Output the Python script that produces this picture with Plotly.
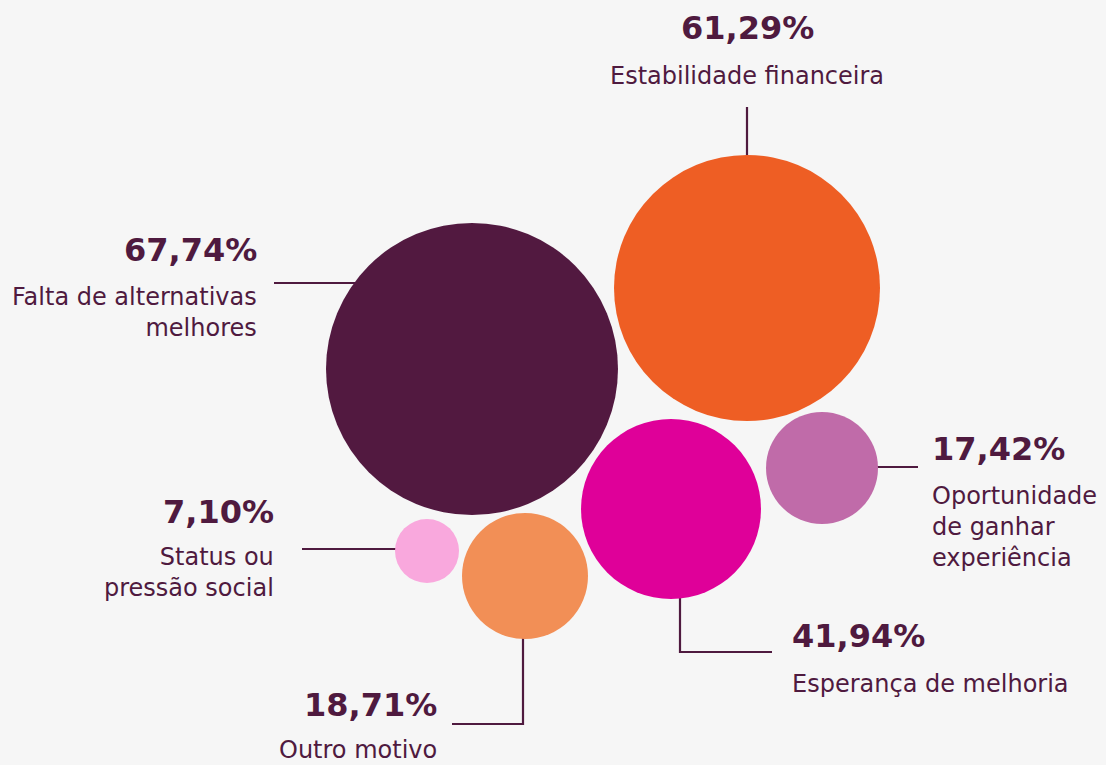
import plotly.graph_objects as go

# ---- data ----
categories = [
    "Falta de alternativas<br>melhores",
    "Estabilidade financeira",
    "Oportunidade<br>de ganhar<br>experiência",
    "Esperança de melhoria",
    "Outro motivo",
    "Status ou<br>pressão social",
]
values = [67.74, 61.29, 17.42, 41.94, 18.71, 7.10]
value_labels = ["67,74%", "61,29%", "17,42%", "41,94%", "18,71%", "7,10%"]

# ---- layout (pixel coordinates of the packed bubbles) ----
cx = [472, 747, 822, 671, 525, 427]
cy = [369, 288, 468, 509, 576, 551]
radius = [146, 133, 56, 90, 63, 32]
colors = ["#521940", "#ee5e24", "#c06ba9", "#df0099", "#f28f56", "#f9a8dd"]

TEXT = "#4f1a3f"
BG = "#f6f6f6"
W, H = 1106, 765

fig = go.Figure()

# leader lines (pixel paths)
leaders = [
    ([274, 356], [283, 283]),
    ([747, 747], [107, 156]),
    ([877, 918], [467, 467]),
    ([680, 680, 772], [597, 652, 652]),
    ([523, 523, 452], [638, 724, 724]),
    ([302, 396], [549, 549]),
]
for xs, ys in leaders:
    fig.add_trace(go.Scatter(x=xs, y=ys, mode="lines",
                             line=dict(color=TEXT, width=2.2),
                             hoverinfo="skip", showlegend=False))

fig.add_trace(go.Scatter(
    x=cx, y=cy, mode="markers",
    marker=dict(size=[2 * r for r in radius], sizemode="diameter",
                color=colors, opacity=1, line=dict(width=0)),
    customdata=values,
    text=[c.replace("<br>", " ") for c in categories],
    hovertemplate="%{text}: %{customdata:.2f}%<extra></extra>",
    showlegend=False,
))

# text positions: (x, y_pct_center, y_label_first_line_center, anchor)
text_pos = [
    (259, 250, 298, "right"),
    (747, 28, 77, "center"),
    (930, 449, 497, "left"),
    (790, 636, 685, "left"),
    (439, 705, 751, "right"),
    (276, 512, 558, "right"),
]
PCT_FONT = "DejaVu Sans"
LAB_FONT = "DejaVu Sans"
for (x, yp, yl, anc), lab, val in zip(text_pos, categories, value_labels):
    fig.add_annotation(x=x, y=yp, text=val, showarrow=False,
                       xanchor=anc, yanchor="middle",
                       font=dict(family=PCT_FONT, size=32, color=TEXT, weight="bold"))
    fig.add_annotation(x=x, y=yl - 17, text=lab, showarrow=False,
                       xanchor=anc, yanchor="top", align=anc,
                       font=dict(family=LAB_FONT, size=24, color=TEXT))

fig.update_layout(
    width=W, height=H, autosize=False,
    margin=dict(l=0, r=0, t=0, b=0),
    paper_bgcolor=BG, plot_bgcolor=BG,
    xaxis=dict(range=[0, W], visible=False, fixedrange=True),
    yaxis=dict(range=[H, 0], visible=False, fixedrange=True),
    showlegend=False,
)

fig.write_html(
    "out.html",
    config={"displayModeBar": False},
    post_script="document.body.style.margin='0';document.body.style.overflow='hidden';"
                "document.body.style.background='#f6f6f6';",
)
